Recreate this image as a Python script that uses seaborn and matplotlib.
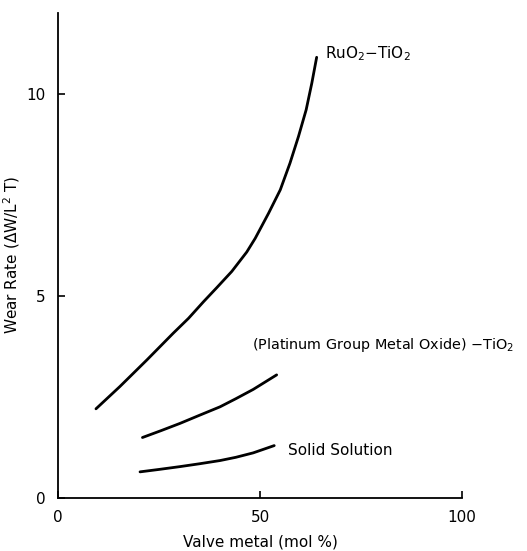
import matplotlib
matplotlib.use("Agg")
import matplotlib.pyplot as plt
import pandas as pd
import seaborn as sns

# curves
ruo2_x = [9.4, 15.3, 22.0, 28.5, 32.3, 36.0, 39.3, 43.0, 46.7, 48.8, 52.1,
          55.0, 57.4, 59.5, 61.4, 62.8, 64.0]
ruo2_y = [2.20, 2.75, 3.41, 4.07, 4.44, 4.85, 5.20, 5.60, 6.08, 6.42, 7.04,
          7.62, 8.28, 8.94, 9.60, 10.26, 10.90]

pgmo_x = [20.9, 25.5, 30.2, 35.0, 40.1, 44.0, 48.3, 54.1]
pgmo_y = [1.49, 1.66, 1.84, 2.04, 2.25, 2.45, 2.68, 3.04]

solid_x = [20.3, 25.0, 30.2, 35.0, 40.1, 44.0, 48.3, 53.5]
solid_y = [0.64, 0.70, 0.77, 0.84, 0.92, 1.00, 1.11, 1.29]

series_names = ["RuO2-TiO2", "PGMO-TiO2", "Solid Solution"]
x_ticks = [0, 50, 100]
y_ticks = [0, 5, 10]


def build_frame() -> pd.DataFrame:
    parts = []
    for name, xs, ys in zip(series_names,
                            [ruo2_x, pgmo_x, solid_x],
                            [ruo2_y, pgmo_y, solid_y]):
        parts.append(pd.DataFrame({"x": xs, "y": ys, "series": name}))
    return pd.concat(parts, ignore_index=True)


sns.set_theme(style="ticks")
plt.rcParams["font.family"] = ["DejaVu Sans"]
plt.rcParams["text.color"] = "black"
plt.rcParams["axes.labelcolor"] = "black"

fig = plt.figure(figsize=(5.27, 5.51), dpi=100)
ax = fig.add_axes([0.110, 0.0967, 0.767, 0.880])

df = build_frame()
for name in series_names:
    sub = df[df["series"] == name]
    sns.lineplot(data=sub, x="x", y="y", estimator=None, sort=False,
                 color="black", linewidth=2.0, ax=ax)

ax.set_xlim(0, 100)
ax.set_ylim(0, 12.0)
ax.set_xticks(x_ticks)
ax.set_yticks(y_ticks)
ax.tick_params(direction="in", length=5, width=1.2, labelsize=11, colors="black")
ax.tick_params(axis="x", pad=9)
ax.tick_params(axis="y", pad=9)
sns.despine(ax=ax)
for side in ["left", "bottom"]:
    ax.spines[side].set_linewidth(1.3)
    ax.spines[side].set_color("black")

ax.set_xlabel("Valve metal (mol %)", fontsize=11, labelpad=7)
ax.set_ylabel(r"Wear Rate ($\Delta$W/L$^2$ T)", fontsize=11, labelpad=3)

ax.text(66.1, 11.0, r"RuO$_2$$-$TiO$_2$", fontsize=11, va="center", ha="left")
ax.text(48.0, 3.78, r"(Platinum Group Metal Oxide) $-$TiO$_2$", fontsize=10.4,
        va="center", ha="left")
ax.text(57.0, 1.18, "Solid Solution", fontsize=11, va="center", ha="left")

fig.savefig("out.png", dpi=100)
plt.close(fig)
